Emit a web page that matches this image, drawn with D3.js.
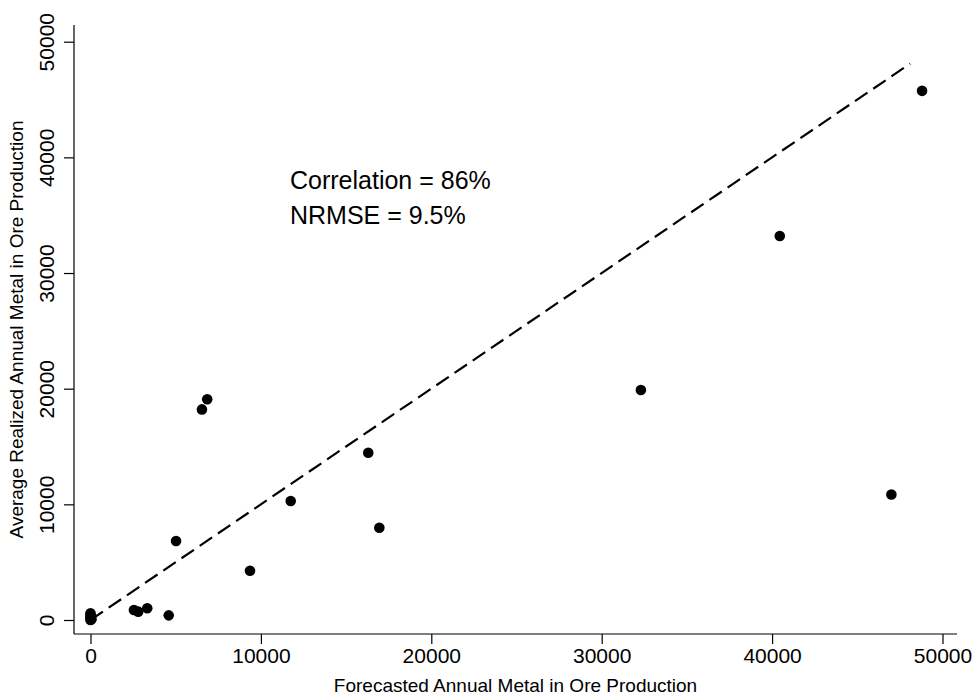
<!DOCTYPE html>
<html>
<head>
<meta charset="utf-8">
<script src="https://cdn.jsdelivr.net/npm/d3@7"></script>
<style>
  body { margin: 0; background: #fff; }
  text { font-family: "Liberation Sans", Arial, sans-serif; fill: #000; }
</style>
</head>
<body>
<script>
// forecasted vs realized annual metal in ore production
var forecast = [0, 0, 0, 0, 0, 60, 40, 2550, 2800, 3330, 4590, 5020, 6540, 6850, 9360, 11750, 16300, 16950, 32300, 40450, 47000, 48800];
var realized = [0, 120, 260, 420, 580, 60, 330, 860, 720, 1010, 400, 6830, 18210, 19080, 4260, 10290, 14460, 7980, 19880, 33200, 10850, 45750];
var xTicks = [0, 10000, 20000, 30000, 40000, 50000];
var yTicks = [0, 10000, 20000, 30000, 40000, 50000];
var fitLine = [0, 48100]; // 45 degree reference line ends
var notes = ['Correlation = 86%', 'NRMSE = 9.5%'];

var width = 980, height = 697;
var svg = d3.select('body').append('svg')
    .attr('width', width)
    .attr('height', height);

var x = d3.scaleLinear().domain([0, 50000]).range([90.5, 942.5]);
var y = d3.scaleLinear().domain([0, 50000]).range([620, 41.7]);

var axisY = 634, axisX = 74;

// axis lines sit off the data region
svg.append('line')
    .attr('x1', axisX).attr('x2', 957)
    .attr('y1', axisY).attr('y2', axisY)
    .attr('stroke', '#000').attr('stroke-width', 1.2);
svg.append('line')
    .attr('x1', axisX).attr('x2', axisX)
    .attr('y1', 25).attr('y2', axisY)
    .attr('stroke', '#000').attr('stroke-width', 1.2);

var xAxis = d3.axisBottom(x).tickValues(xTicks).tickSize(10).tickPadding(4).tickFormat(d3.format('d'));
var gx = svg.append('g').attr('transform', 'translate(0,' + axisY + ')').call(xAxis);
gx.select('.domain').remove();
gx.selectAll('.tick line').attr('stroke', '#000').attr('stroke-width', 1.2);
gx.selectAll('.tick text').style('font-size', '21px').attr('fill', '#000');

var yAxis = d3.axisLeft(y).tickValues(yTicks).tickSize(10).tickFormat(d3.format('d'));
var gy = svg.append('g').attr('transform', 'translate(' + axisX + ',0)').call(yAxis);
gy.select('.domain').remove();
gy.selectAll('.tick line').attr('stroke', '#000').attr('stroke-width', 1.2);
gy.selectAll('.tick text')
    .style('font-size', '21px')
    .attr('fill', '#000')
    .attr('text-anchor', 'middle')
    .attr('dy', null)
    .attr('x', null)
    .attr('transform', 'translate(-20,0) rotate(-90)');

// dashed 45 degree line
svg.append('line')
    .attr('x1', x(fitLine[0])).attr('y1', y(fitLine[0]))
    .attr('x2', x(fitLine[1])).attr('y2', y(fitLine[1]))
    .attr('stroke', '#000')
    .attr('stroke-width', 2.2)
    .attr('stroke-dasharray', '15,7');

svg.selectAll('.dot')
    .data(d3.range(forecast.length))
    .enter()
    .append('circle')
    .attr('class', 'dot')
    .attr('cx', function(i){ return x(forecast[i]); })
    .attr('cy', function(i){ return y(realized[i]); })
    .attr('r', 5.3)
    .attr('fill', '#000');

svg.selectAll('.note')
    .data(notes)
    .enter()
    .append('text')
    .attr('class', 'note')
    .attr('x', 290)
    .attr('y', function(d, i){ return 189 + i * 35; })
    .style('font-size', '25px')
    .text(function(d){ return d; });

svg.append('text')
    .attr('x', (axisX + 957) / 2)
    .attr('y', 692)
    .attr('text-anchor', 'middle')
    .style('font-size', '19px')
    .text('Forecasted Annual Metal in Ore Production');

svg.append('text')
    .attr('transform', 'translate(23,' + ((25 + axisY) / 2) + ') rotate(-90)')
    .attr('text-anchor', 'middle')
    .style('font-size', '19px')
    .text('Average Realized Annual Metal in Ore Production');
</script>
</body>
</html>
